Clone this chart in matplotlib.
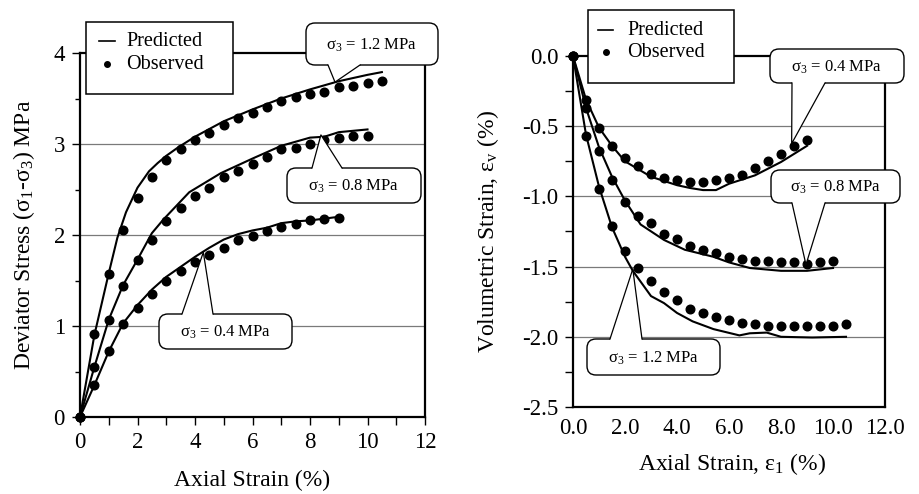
import matplotlib
matplotlib.use("Agg")
import matplotlib.pyplot as plt
from matplotlib.patches import FancyBboxPatch, Rectangle, Polygon
from matplotlib.lines import Line2D
from matplotlib.transforms import Affine2D
from matplotlib.ticker import MultipleLocator, FormatStrFormatter

plt.rcParams['font.family'] = ['Liberation Serif', 'DejaVu Serif']
plt.rcParams['mathtext.fontset'] = 'custom'
plt.rcParams['mathtext.rm'] = 'Liberation Serif'
plt.rcParams['mathtext.it'] = 'Liberation Serif:italic'
plt.rcParams['mathtext.default'] = 'regular'
plt.rcParams['axes.unicode_minus'] = False

# ---------------- deviator stress vs axial strain ----------------
strain_obs_04 = [0, 0.5, 1, 1.5, 2, 2.5, 3, 3.5, 4, 4.5, 5, 5.5, 6, 6.5, 7, 7.5, 8, 8.5, 9]
strain_obs_08 = strain_obs_04 + [9.5, 10]
strain_obs_12 = strain_obs_08 + [10.5]

q_obs_04 = [0, 0.35, 0.73, 1.02, 1.20, 1.35, 1.49, 1.60, 1.70, 1.78, 1.86, 1.94,
            1.99, 2.04, 2.09, 2.12, 2.16, 2.18, 2.19]
q_obs_08 = [0, 0.55, 1.07, 1.44, 1.73, 1.94, 2.15, 2.30, 2.43, 2.52, 2.64, 2.70,
            2.78, 2.86, 2.94, 2.96, 3.00, 3.04, 3.07, 3.09, 3.09]
q_obs_12 = [0, 0.91, 1.57, 2.05, 2.41, 2.64, 2.82, 2.95, 3.04, 3.12, 3.21, 3.29,
            3.34, 3.41, 3.47, 3.52, 3.55, 3.57, 3.63, 3.64, 3.67, 3.69]

strain_pred_q04 = [0, 0.5, 1.0, 1.5, 2.0, 2.5, 3.0, 3.5, 4.0, 4.5, 5.0, 5.5, 6.0,
                   6.5, 7.0, 7.5, 8.0, 8.5, 9.0]
q_pred_04 = [0, 0.35, 0.72, 1.03, 1.23, 1.40, 1.54, 1.65, 1.76, 1.86, 1.95, 2.01,
             2.05, 2.08, 2.13, 2.15, 2.16, 2.18, 2.20]
strain_pred_q08 = [0, 0.5, 1.0, 1.5, 2.0, 2.5, 2.9, 3.8, 4.9, 6.0, 7.0, 8.0, 8.5, 9.0, 10.0]
q_pred_08 = [0, 0.55, 1.07, 1.45, 1.73, 2.02, 2.17, 2.47, 2.68, 2.84, 2.98, 3.07,
             3.08, 3.13, 3.16]
strain_pred_q12 = [0, 0.5, 1.0, 1.3, 1.6, 2.0, 2.4, 2.7, 3.0, 3.4, 4.0, 5.0, 6.0,
                   7.0, 8.0, 9.0, 10.0, 10.5]
q_pred_12 = [0, 0.90, 1.58, 1.97, 2.25, 2.52, 2.70, 2.79, 2.87, 2.96, 3.08, 3.25,
             3.38, 3.50, 3.60, 3.69, 3.76, 3.79]

# ---------------- volumetric strain vs axial strain ----------------
ev_obs_04 = [0, -0.31, -0.51, -0.64, -0.73, -0.78, -0.84, -0.87, -0.88, -0.90,
             -0.90, -0.88, -0.87, -0.85, -0.80, -0.75, -0.70, -0.64, -0.60]
ev_obs_08 = [0, -0.37, -0.68, -0.88, -1.04, -1.14, -1.19, -1.27, -1.30, -1.35,
             -1.38, -1.40, -1.43, -1.445, -1.46, -1.46, -1.47, -1.47, -1.48, -1.47, -1.46]
ev_obs_12 = [0, -0.57, -0.95, -1.21, -1.39, -1.51, -1.60, -1.68, -1.74, -1.80,
             -1.83, -1.86, -1.88, -1.90, -1.91, -1.92, -1.92, -1.92, -1.92, -1.92,
             -1.92, -1.91]

strain_pred_v04 = [0, 0.5, 1.0, 1.5, 2.0, 3.0, 4.0, 4.5, 5.0, 5.5, 6.0, 6.5, 7.0, 8.0, 9.0]
ev_pred_04 = [0, -0.31, -0.51, -0.64, -0.75, -0.86, -0.92, -0.94, -0.955, -0.955,
              -0.91, -0.88, -0.85, -0.755, -0.64]
strain_pred_v08 = [0, 0.5, 1.0, 1.5, 2.0, 2.6, 3.5, 4.3, 5.4, 6.0, 6.8, 8.0, 9.0, 10.0]
ev_pred_08 = [0, -0.37, -0.65, -0.86, -1.03, -1.20, -1.31, -1.38, -1.43, -1.47,
              -1.51, -1.53, -1.53, -1.51]
strain_pred_v12 = [0, 0.5, 1.0, 1.5, 2.0, 2.3, 3.0, 3.5, 4.0, 4.6, 5.4, 6.4, 6.8,
                   7.45, 8.0, 9.2, 10.5]
ev_pred_12 = [0, -0.56, -0.93, -1.22, -1.43, -1.53, -1.71, -1.76, -1.83, -1.89,
              -1.945, -1.99, -1.975, -1.97, -2.0, -2.005, -2.0]

W, H = 919, 494
fig = plt.figure(figsize=(W / 100, H / 100), dpi=100)
# pixel coordinates with the origin at the top-left corner
pix = Affine2D().scale(1, -1).translate(0, H).scale(fig.dpi / 100.0)
# pixel coordinates with the origin at the bottom-left corner
upx = Affine2D().scale(fig.dpi / 100.0)


def axes_from_px(x0, y0, x1, y1):
    return fig.add_axes([x0 / W, 1 - y1 / H, (x1 - x0) / W, (y1 - y0) / H])


ax1 = axes_from_px(80, 53, 425, 417)
ax2 = axes_from_px(573, 56, 885, 407)

LW = 1.5
GRID = '#7a7a7a'
MS = 6.2
TICK_FS = 16.5
LABEL_FS = 17

for ax in (ax1, ax2):
    for side in ('left', 'bottom', 'top', 'right'):
        ax.spines[side].set_linewidth(1.6)
    ax.set_facecolor('white')

# left panel
for x, y in ((strain_pred_q04, q_pred_04), (strain_pred_q08, q_pred_08),
             (strain_pred_q12, q_pred_12)):
    ax1.plot(x, y, color='black', lw=LW, clip_on=False, zorder=3)
for x, y in ((strain_obs_04, q_obs_04), (strain_obs_08, q_obs_08),
             (strain_obs_12, q_obs_12)):
    ax1.plot(x, y, 'o', color='black', ms=MS, clip_on=False, zorder=4)
ax1.set_xlim(0, 12)
ax1.set_ylim(0, 4)
ax1.xaxis.set_major_locator(MultipleLocator(2))
ax1.xaxis.set_minor_locator(MultipleLocator(1))
ax1.yaxis.set_major_locator(MultipleLocator(1))
ax1.yaxis.set_minor_locator(MultipleLocator(0.5))
ax1.tick_params(which='both', direction='out', length=5.8, width=1.0,
                labelsize=TICK_FS, pad=5)
ax1.tick_params(axis='y', which='minor', length=3.5)
for yv in (1, 2, 3):
    ax1.axhline(yv, color=GRID, lw=0.9, zorder=1)
ax1.set_xlabel('Axial Strain (%)', fontsize=LABEL_FS)
ax1.set_ylabel('Deviator Stress (σ$_1$-σ$_3$) MPa', fontsize=LABEL_FS)
ax1.xaxis.set_label_coords(0.5, -0.145)
ax1.yaxis.set_label_coords(-0.125, 0.5)

# right panel
for x, y in ((strain_pred_v04, ev_pred_04), (strain_pred_v08, ev_pred_08),
             (strain_pred_v12, ev_pred_12)):
    ax2.plot(x, y, color='black', lw=LW, clip_on=False, zorder=3)
for x, y in ((strain_obs_04, ev_obs_04), (strain_obs_08, ev_obs_08),
             (strain_obs_12, ev_obs_12)):
    ax2.plot(x, y, 'o', color='black', ms=MS, clip_on=False, zorder=4)
ax2.set_xlim(0, 12)
ax2.set_ylim(-2.5, 0)
ax2.xaxis.set_major_locator(MultipleLocator(2))
ax2.xaxis.set_major_formatter(FormatStrFormatter('%.1f'))
ax2.yaxis.set_major_locator(MultipleLocator(0.5))
ax2.yaxis.set_minor_locator(MultipleLocator(0.25))
ax2.yaxis.set_major_formatter(FormatStrFormatter('%.1f'))
ax2.tick_params(axis='x', which='both', length=0, labelsize=TICK_FS, pad=8)
ax2.tick_params(axis='y', which='both', direction='out', length=5.5, width=1.0,
                labelsize=TICK_FS, pad=5)
for yv in (-0.5, -1.0, -1.5, -2.0):
    ax2.axhline(yv, color=GRID, lw=0.9, zorder=1)
ax2.set_xlabel('Axial Strain, ε$_1$ (%)', fontsize=LABEL_FS)
ax2.set_ylabel('Volumetric Strain, ε$_v$ (%)', fontsize=LABEL_FS)
ax2.xaxis.set_label_coords(0.51, -0.125)
ax2.yaxis.set_label_coords(-0.23, 0.5)


def legend_box(x0, y0, w, h, hx0, hx1, text_x, row1, row2):
    fig.add_artist(Rectangle((x0, H - y0 - h), w, h, transform=upx, facecolor='white',
                             edgecolor='black', lw=1.1, zorder=6))
    fig.add_artist(Line2D([hx0, hx1], [row1, row1], transform=pix, color='black',
                          lw=1.2, zorder=7))
    fig.add_artist(Line2D([(hx0 + hx1) / 2], [row2], transform=pix, color='black',
                          marker='o', ms=4, lw=0, zorder=7))
    fig.text(text_x, row1, 'Predicted', transform=pix, fontsize=14.5,
             va='center', ha='left', zorder=7)
    fig.text(text_x, row2, 'Observed', transform=pix, fontsize=14.5,
             va='center', ha='left', zorder=7)


legend_box(86, 22, 147, 72, 99, 115, 126, 41, 64)
legend_box(588, 10, 146, 73, 598, 613, 627, 30, 52)


def callout(ax, label, box, base_x, side, tip):
    x0, y0, x1, y1 = box
    fig.add_artist(FancyBboxPatch((x0, H - y1), x1 - x0, y1 - y0,
                                  boxstyle='round,pad=0,rounding_size=9',
                                  transform=upx, facecolor='white',
                                  edgecolor='black', lw=1.0, zorder=6))
    edge_y = y1 if side == 'bottom' else y0
    inner = -3 if side == 'bottom' else 3
    tip_disp = ax.transData.transform(tip)
    tx, ty = pix.inverted().transform(tip_disp)
    b0, b1 = base_x
    fig.add_artist(Polygon([(b0, edge_y + inner), (b0, edge_y), (tx, ty),
                            (b1, edge_y), (b1, edge_y + inner)],
                           closed=True, transform=pix, facecolor='white',
                           edgecolor='none', zorder=6.5))
    fig.add_artist(Line2D([b0, tx, b1], [edge_y, ty, edge_y], transform=pix,
                          color='black', lw=0.9, zorder=7))
    fig.text((x0 + x1) / 2, (y0 + y1) / 2 + 1, label, transform=pix,
             fontsize=12, ha='center', va='center', zorder=7)


callout(ax1, 'σ$_3$ = 1.2 MPa', (306, 23, 438, 65), (328, 360), 'bottom', (8.87, 3.68))
callout(ax1, 'σ$_3$ = 0.8 MPa', (287, 168, 421, 203), (312, 342), 'top', (8.38, 3.10))
callout(ax1, 'σ$_3$ = 0.4 MPa', (159, 314, 292, 349), (182, 213), 'top', (4.29, 1.81))
callout(ax2, 'σ$_3$ = 0.4 MPa', (770, 49, 904, 83), (792, 825), 'bottom', (8.41, -0.624))
callout(ax2, 'σ$_3$ = 0.8 MPa', (771, 170, 900, 203), (792, 825), 'bottom', (8.96, -1.486))
callout(ax2, 'σ$_3$ = 1.2 MPa', (587, 339, 720, 375), (610, 642), 'top', (2.30, -1.517))

fig.savefig('out.png', dpi=100, facecolor='white')
